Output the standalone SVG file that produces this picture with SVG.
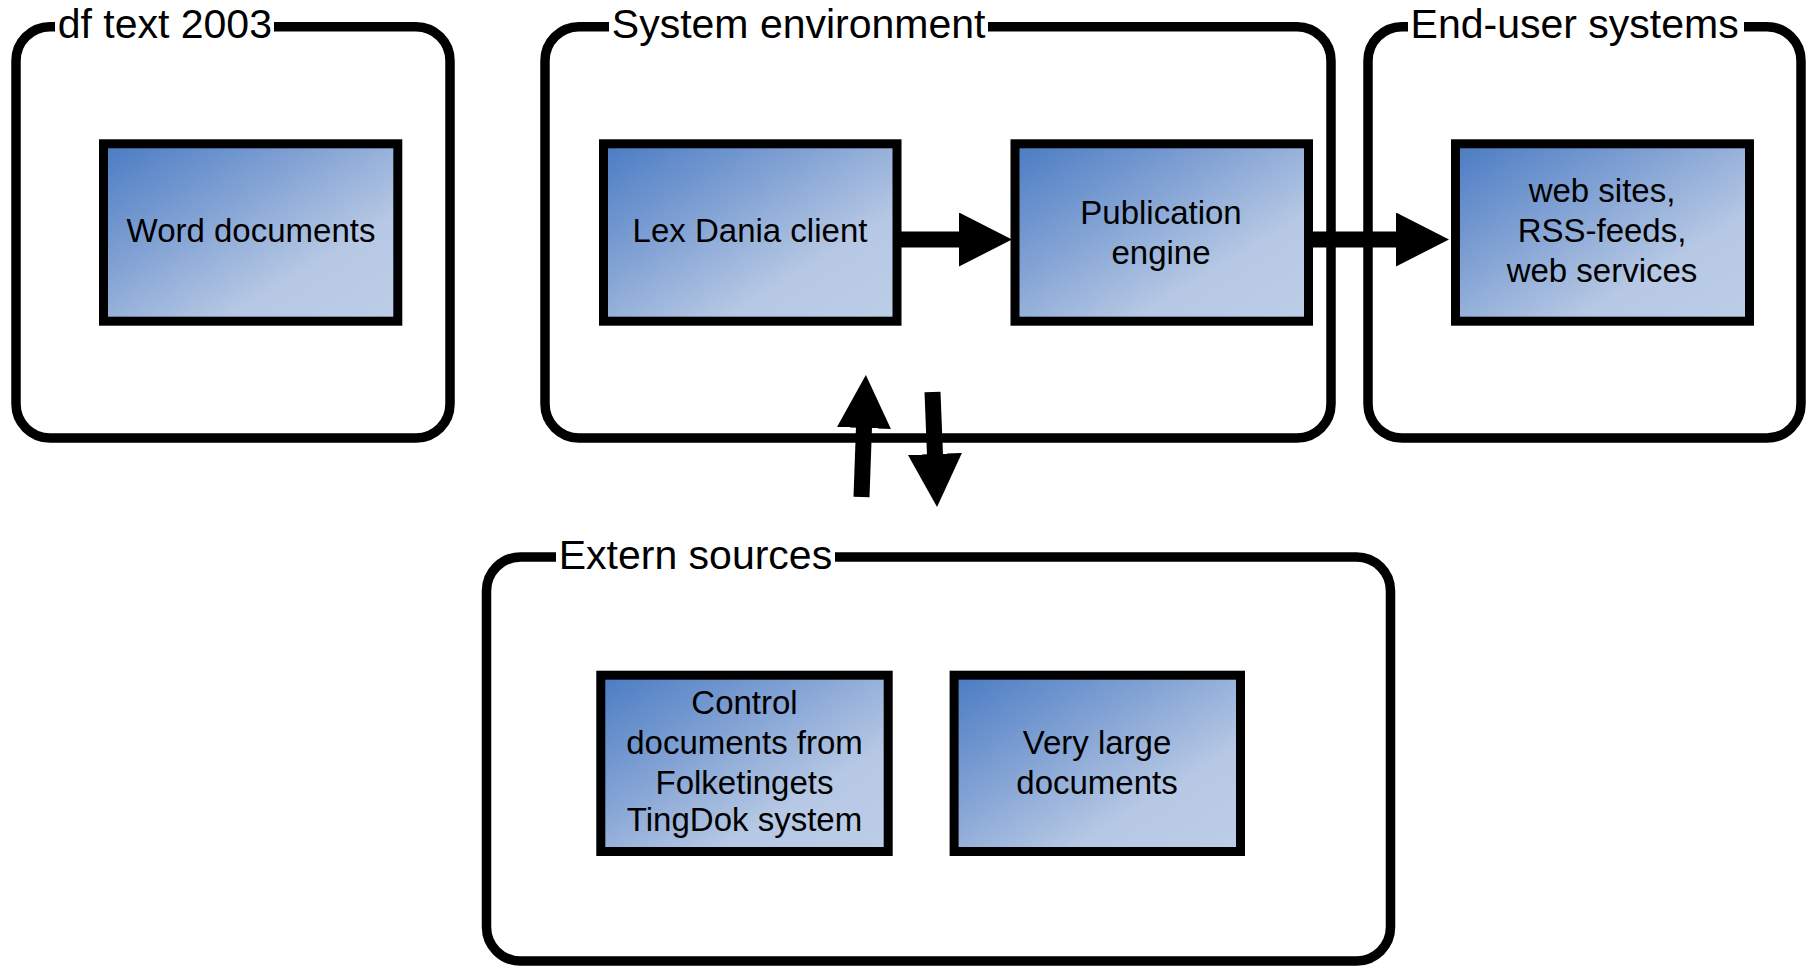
<svg xmlns="http://www.w3.org/2000/svg" width="1810" height="971" viewBox="0 0 1810 971">
<defs>
<linearGradient id="blue" x1="0" y1="0" x2="1" y2="1">
<stop offset="0" stop-color="#4a7bc3"/>
<stop offset="0.35" stop-color="#7fa0d3"/>
<stop offset="0.7" stop-color="#b6c8e4"/>
<stop offset="1" stop-color="#bccde7"/>
</linearGradient>
<marker id="head" markerUnits="userSpaceOnUse" markerWidth="56" markerHeight="56" refX="1" refY="27" orient="auto" viewBox="0 0 56 56">
<path d="M0,0 L53,27 L0,54 Z" fill="#000"/>
</marker>
</defs>
<style>
.grp{fill:none;stroke:#000;stroke-width:9.5}
.node{fill:url(#blue);stroke:#000;stroke-width:9}
.title{font-family:"Liberation Sans",Arial,sans-serif;font-size:41px;fill:#000}
.lbl{font-family:"Liberation Sans",Arial,sans-serif;font-size:33px;fill:#000;text-anchor:middle}
.gap{fill:#fff}
.conn{stroke:#000;stroke-width:16;fill:none;marker-end:url(#head)}
</style>
<rect width="1810" height="971" fill="#fff"/>

<g id="group-df-text-2003">
<rect class="grp" x="16" y="26.7" width="434" height="411.3" rx="34"/>
<rect class="gap" x="55" y="14" width="219" height="28"/>
<text class="title" x="57.7" y="38">df text 2003</text>
</g>
<g id="group-system-environment">
<rect class="grp" x="545" y="26.7" width="786" height="411.3" rx="34"/>
<rect class="gap" x="609" y="14" width="379" height="28"/>
<text class="title" x="611.8" y="38">System environment</text>
</g>
<g id="group-end-user-systems">
<rect class="grp" x="1368" y="26.7" width="433" height="411.3" rx="34"/>
<rect class="gap" x="1408" y="14" width="336" height="28"/>
<text class="title" x="1410.6" y="38">End-user systems</text>
</g>
<g id="group-extern-sources">
<rect class="grp" x="486.5" y="557" width="904" height="404" rx="34"/>
<rect class="gap" x="556" y="543" width="279" height="28"/>
<text class="title" x="558.7" y="569">Extern sources</text>
</g>

<g id="node-word-documents">
<rect class="node" x="103.5" y="143.8" width="294.3" height="177.4"/>
<text class="lbl" x="251" y="242">Word documents</text>
</g>
<g id="node-lex-dania-client">
<rect class="node" x="603.5" y="143.8" width="293.5" height="177.4"/>
<text class="lbl" x="750" y="242">Lex Dania client</text>
</g>
<g id="node-publication-engine">
<rect class="node" x="1015" y="143.8" width="293.5" height="177.4"/>
<text class="lbl" x="1161" y="224">Publication</text>
<text class="lbl" x="1161" y="264">engine</text>
</g>
<g id="node-web">
<rect class="node" x="1455.5" y="143.8" width="294" height="177.4"/>
<text class="lbl" x="1602" y="202">web sites,</text>
<text class="lbl" x="1602" y="242">RSS-feeds,</text>
<text class="lbl" x="1602" y="282">web services</text>
</g>
<g id="node-control-documents">
<rect class="node" x="600.8" y="675.2" width="287.4" height="176.3"/>
<text class="lbl" x="744.5" y="714">Control</text>
<text class="lbl" x="744.5" y="754">documents from</text>
<text class="lbl" x="744.5" y="794">Folketingets</text>
<text class="lbl" x="744.5" y="831">TingDok system</text>
</g>
<g id="node-very-large-documents">
<rect class="node" x="954.1" y="675.2" width="286.4" height="176.3"/>
<text class="lbl" x="1097" y="754">Very large</text>
<text class="lbl" x="1097" y="794">documents</text>
</g>

<g id="connectors">
<line class="conn" x1="899" y1="239.5" x2="960" y2="239.5"/>
<line class="conn" x1="1311" y1="239.5" x2="1397" y2="239.5"/>
<line class="conn" x1="861.5" y1="497" x2="864" y2="427"/>
<line class="conn" x1="932.5" y1="392" x2="935" y2="455"/>
</g>
</svg>
